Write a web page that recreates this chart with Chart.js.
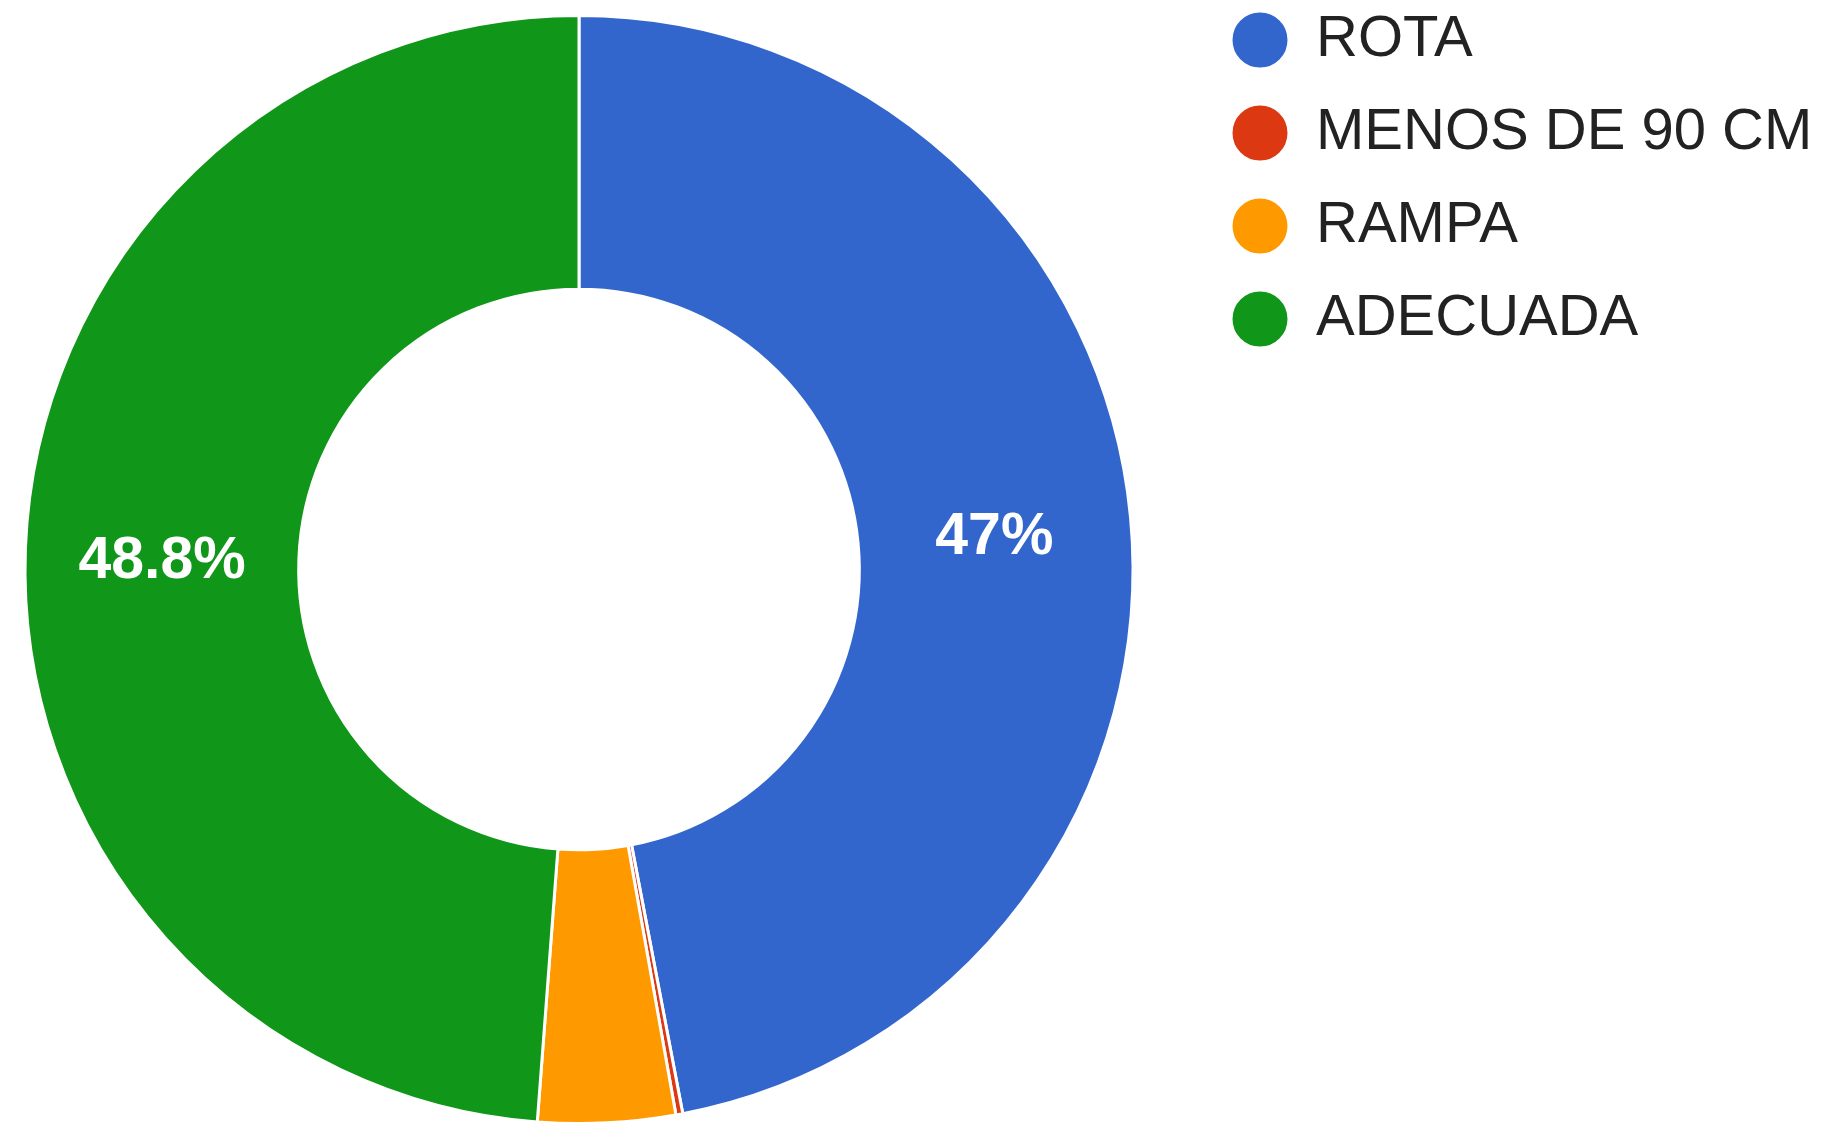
<!DOCTYPE html>
<html><head><meta charset="utf-8">
<script src="https://cdn.jsdelivr.net/npm/chart.js@4.4.1/dist/chart.umd.min.js"></script>
<style>
html,body{margin:0;padding:0;background:#fff;overflow:hidden;width:1829px;height:1129px;position:relative}
#wrap{position:absolute;left:-40px;top:-24px;width:1869px;height:1187px}
</style>
</head><body>
<div id="wrap"><canvas id="c" width="1869" height="1187" style="display:block;width:1869px;height:1187px"></canvas></div>
<script>
const categories = ['ROTA', 'MENOS DE 90 CM', 'RAMPA', 'ADECUADA'];
const values = [47, 0.2, 4, 48.8];
const colors = ['#3366CC', '#DC3912', '#FF9900', '#109618'];
const labelThreshold = 10;

const sliceLabels = {
  id: 'sliceLabels',
  afterDatasetsDraw(chart) {
    const ctx = chart.ctx;
    const meta = chart.getDatasetMeta(0);
    const size = 59;
    ctx.save();
    ctx.font = 'bold ' + size + 'px Arial, "Liberation Sans", sans-serif';
    ctx.fillStyle = '#ffffff';
    ctx.textAlign = 'center';
    ctx.textBaseline = 'alphabetic';
    meta.data.forEach((arc, i) => {
      const v = values[i];
      if (v < labelThreshold) return;
      const p = arc.tooltipPosition();
      ctx.fillText(v + '%', p.x, p.y + size * 0.716 / 2 + 3);
    });
    ctx.restore();
  }
};

new Chart(document.getElementById('c'), {
  type: 'doughnut',
  data: {
    labels: categories,
    datasets: [{
      data: values,
      backgroundColor: colors,
      borderColor: '#ffffff',
      borderWidth: 3,
      hoverOffset: 0
    }]
  },
  options: {
    responsive: false,
    devicePixelRatio: 1,
    animation: false,
    radius: 554,
    cutout: '50.6%',
    rotation: 0,
    layout: { padding: { top: 0, bottom: 0, left: 0, right: 9 } },
    plugins: {
      tooltip: { enabled: false },
      legend: {
        position: 'right',
        align: 'start',
        maxWidth: 622,
        labels: {
          usePointStyle: true,
          pointStyle: 'circle',
          boxWidth: 54,
          boxHeight: 41,
          padding: 35,
          color: '#222222',
          font: { family: 'Arial, "Liberation Sans", sans-serif', size: 58 }
        }
      }
    }
  },
  plugins: [sliceLabels]
});
</script>
</body></html>
